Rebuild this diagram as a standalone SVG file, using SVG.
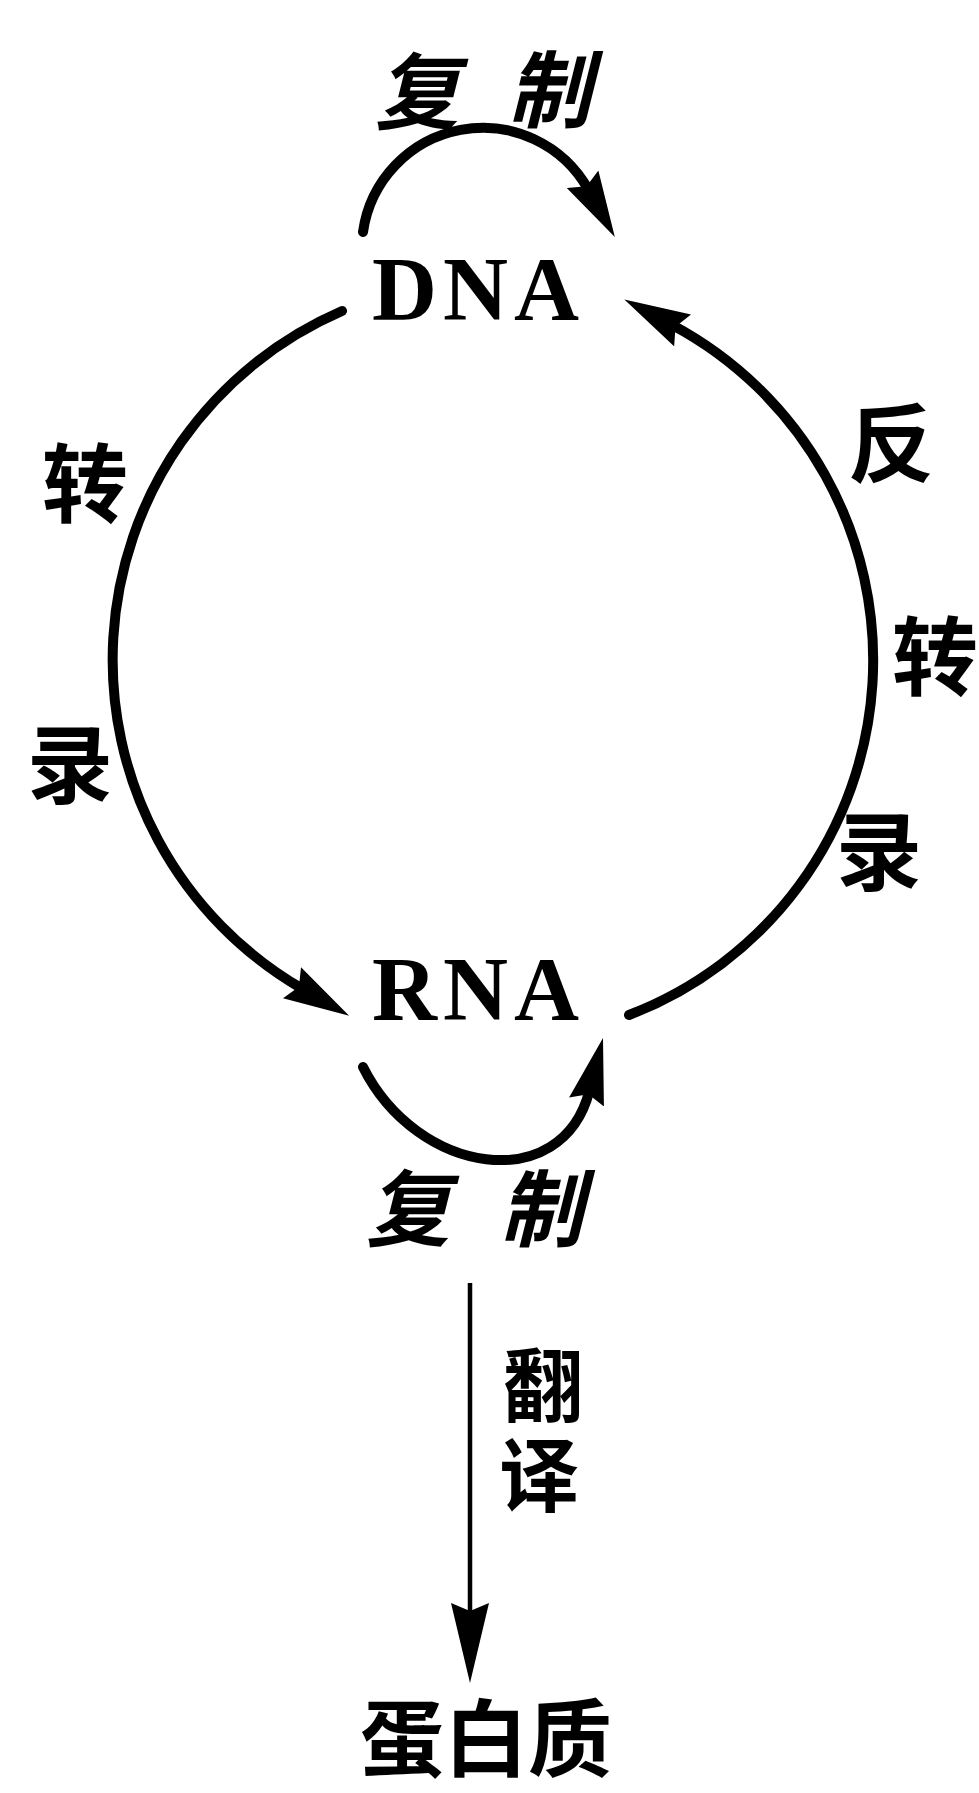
<svg xmlns="http://www.w3.org/2000/svg" width="979" height="1793" viewBox="0 0 979 1793">
  <style>
    .edge { fill: none; stroke: #000; stroke-width: 10; stroke-linecap: round; }
    .thin { fill: none; stroke: #000; stroke-width: 4.5; }
    .node { font-family: "Liberation Serif", serif; font-weight: bold; font-size: 90px; letter-spacing: 6px; fill: #000; }
    .lbl { font-family: "Noto Sans CJK SC", "Noto Sans CJK TC", sans-serif; font-weight: bold; font-size: 86px; text-anchor: middle; fill: #000; }
    .obl { font-style: italic; font-size: 84px; }
    .sm { font-size: 80px; }
  </style>
  <defs>
    <marker id="ah" viewBox="0 0 66 36" refX="12" refY="18" markerWidth="66" markerHeight="36" markerUnits="userSpaceOnUse" orient="auto">
      <path d="M0,0 L66,18 L0,36 L8,18 Z" fill="#000"/>
    </marker>
    <marker id="ah2" viewBox="0 0 80 38" refX="12" refY="19" markerWidth="80" markerHeight="38" markerUnits="userSpaceOnUse" orient="auto">
      <path d="M0,0 L80,19 L0,38 L8,19 Z" fill="#000"/>
    </marker>
  </defs>
  <rect width="979" height="1793" fill="#fff"/>

  <g id="connectors">
    <path id="dna-replication" class="edge" d="M 363 232 A 121 121 0 0 1 588.5 189.8" marker-end="url(#ah)"/>
    <path id="transcription" class="edge" d="M 342 311 A 380 380 0 0 0 302.4 988.8" marker-end="url(#ah)"/>
    <path id="reverse-transcription" class="edge" d="M 629 1015 A 380 380 0 0 0 672 324.8" marker-end="url(#ah)"/>
    <path id="rna-replication" class="edge" d="M 363 1067 C 417 1175, 562 1197, 589.5 1090.4" marker-end="url(#ah)"/>
    <path id="translation" class="thin" d="M 470 1283 V 1615" marker-end="url(#ah2)"/>
  </g>

  <g id="edge-labels">
    <g id="label-dna-replication">
      <text class="lbl obl" x="417" y="123">复</text>
      <text class="lbl obl" x="549" y="121">制</text>
    </g>
    <g id="label-transcription">
      <text class="lbl" x="85" y="516">转</text>
      <text class="lbl" x="70" y="797">录</text>
    </g>
    <g id="label-reverse-transcription">
      <text class="lbl" x="891" y="476">反</text>
      <text class="lbl" x="935" y="689">转</text>
      <text class="lbl" x="879" y="884">录</text>
    </g>
    <g id="label-rna-replication">
      <text class="lbl obl" x="408" y="1240">复</text>
      <text class="lbl obl" x="541" y="1240">制</text>
    </g>
    <g id="label-translation">
      <text class="lbl sm"><tspan x="543" y="1415">翻</tspan><tspan x="539" y="1505">译</tspan></text>
    </g>
  </g>

  <g id="node-dna">
    <text class="node" x="372" y="320">DNA</text>
  </g>
  <g id="node-rna">
    <text class="node" x="372" y="1020">RNA</text>
  </g>
  <g id="node-protein">
    <text class="lbl" x="486" y="1770" style="font-size:84px">蛋白质</text>
  </g>
</svg>
